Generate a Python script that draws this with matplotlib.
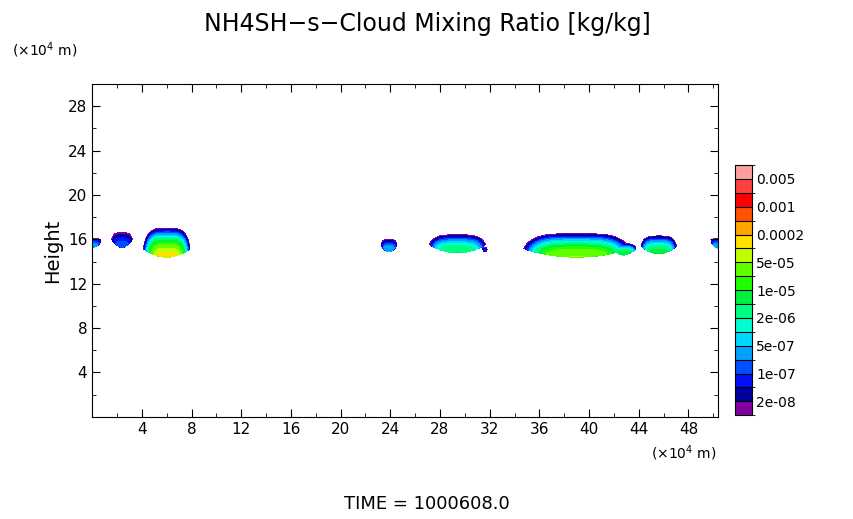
import numpy as np
import matplotlib
matplotlib.use("Agg")
import matplotlib.pyplot as plt
from matplotlib.colors import ListedColormap, BoundaryNorm

# contour levels (kg/kg) and colours, bottom to top
levels = [1e-8, 2e-8, 5e-8, 1e-7, 2e-7, 5e-7, 1e-6, 2e-6, 5e-6, 1e-5,
          2e-5, 5e-5, 1e-4, 2e-4, 5e-4, 1e-3, 2e-3, 5e-3, 1e-2]
colors = ["#8000a0", "#0000a0", "#0010ff", "#0050ff", "#00a0ff", "#00d8ff",
          "#00ffd0", "#00ff80", "#00f040", "#20ff00", "#60ff00", "#c0ff00",
          "#ffe000", "#ffa500", "#ff5000", "#ff0000", "#ff4040", "#ffa0a0"]
cbar_labels = ["2e-08", "1e-07", "5e-07", "2e-06", "1e-05", "5e-05", "0.0002", "0.001", "0.005"]

# cloud blobs (x, z in 1e4 m), log10 of peak value
blob_x = [0.1, 2.4, 6.0, 23.9, 29.4, 31.6, 39.0, 42.8, 45.6, 50.5]
blob_wx = [0.7, 0.9, 1.9, 0.7, 2.4, 0.3, 4.4, 1.1, 1.5, 0.8]
blob_base = [15.3, 15.3, 14.4, 14.9, 14.8, 14.9, 14.4, 14.6, 14.7, 15.2]
blob_top = [16.1, 16.6, 17.0, 16.0, 16.4, 15.3, 16.5, 15.6, 16.3, 16.1]
blob_peak = [-6.5, -6.8, -3.9, -6.3, -5.3, -7.2, -4.3, -5.0, -5.1, -6.3]

x = np.linspace(0, 50.4, 600)
z = np.linspace(0, 30, 900)
X, Z = np.meshgrid(x, z)
logq = np.full(X.shape, -12.0)
for xc, wx, base, top, lp in zip(blob_x, blob_wx, blob_base, blob_top, blob_peak):
    dx = (X - xc) / wx
    r = dx ** 4 + ((Z - base) / (top - base)) ** 2
    v = lp - (lp + 8.0) * r
    v[Z < base + 0.8 * dx ** 2] = -12.0
    logq = np.maximum(logq, v)
q = 10 ** logq

cmap = ListedColormap(colors)
norm = BoundaryNorm(levels, cmap.N)

fig = plt.figure(figsize=(8.54, 5.19), dpi=100)
ax = fig.add_axes([0.108, 0.197, 0.733, 0.641])
ax.contourf(X, Z, q, levels=levels, cmap=cmap, norm=norm)
ax.set_xlim(0, 50.4)
ax.set_ylim(0, 30)
ax.set_xticks(range(4, 49, 4))
ax.set_yticks(range(4, 29, 4))
ax.set_xticks(np.arange(2, 50.4, 2), minor=True)
ax.set_yticks(np.arange(2, 30, 2), minor=True)
ax.tick_params(which="both", direction="in", top=True, right=True, labelsize=11)
ax.tick_params(which="major", length=6)
ax.tick_params(which="minor", length=3)
ax.set_ylabel("Height", fontsize=14)

fig.text(0.5, 0.94, "NH4SH\u2212s\u2212Cloud Mixing Ratio [kg/kg]", ha="center", fontsize=17)
fig.text(0.014, 0.893, "(\u00d710$^4$ m)", fontsize=10)
fig.text(0.762, 0.117, "(\u00d710$^4$ m)", fontsize=10)
fig.text(0.5, 0.02, "TIME = 1000608.0", ha="center", fontsize=13)

cax = fig.add_axes([0.861, 0.2, 0.019, 0.482])
sm = matplotlib.cm.ScalarMappable(cmap=cmap, norm=BoundaryNorm(range(19), 18))
cb = fig.colorbar(sm, cax=cax, ticks=range(1, 18, 2), drawedges=True)
cb.ax.set_yticklabels(cbar_labels)
cb.ax.tick_params(length=0, labelsize=10)
cb.dividers.set_color("black")
cb.dividers.set_linewidth(0.8)

fig.savefig("out.png", dpi=100)
